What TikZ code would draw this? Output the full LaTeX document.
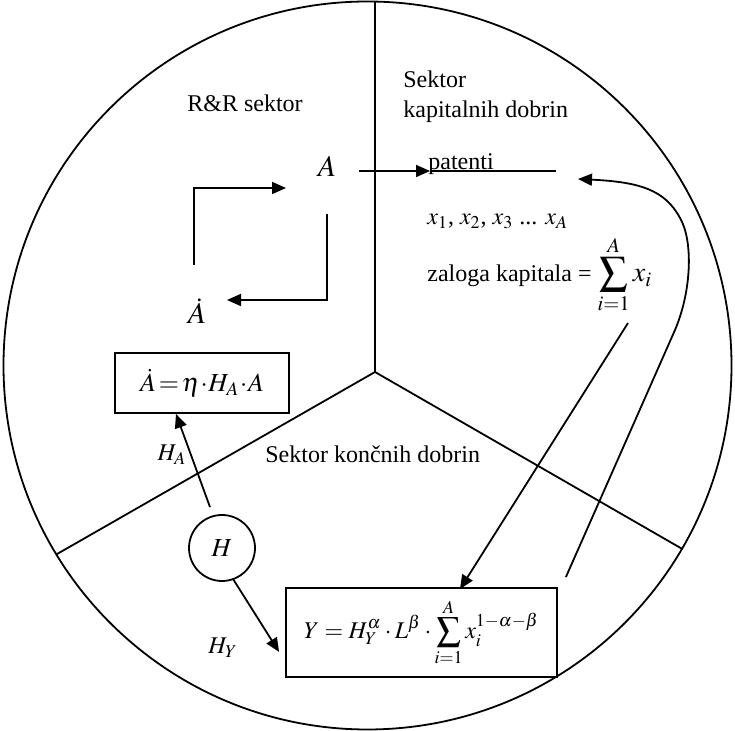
\documentclass[tikz,border=0pt]{standalone}
\usepackage{mathptmx}
\usepackage{fontspec}
\setmainfont{Liberation Serif}
\usetikzlibrary{arrows.meta,calc}
\begin{document}
\begin{tikzpicture}[x=0.5pt,y=-0.5pt,
  every node/.style={font=\fontsize{12}{14}\selectfont, inner sep=0pt},
  big/.style={font=\fontsize{15}{17}\selectfont},
  ln/.style={line width=0.9pt},
  arr/.style={ln,-{Triangle[length=7pt,width=6pt]}},
  fbox/.style={draw,ln,rectangle}]
\useasboundingbox (0,0) rectangle (735,731);
% sectors
\coordinate (J) at (375,372);
\coordinate (Etop) at (375,-20);
\coordinate (Eleft) at (-4,589);
\coordinate (Eright) at (757,592);
\begin{scope}
  \clip (367.5,365.5) circle[radius=182pt];
  \draw[ln] (J) -- (Etop);
  \draw[ln] (J) -- (Eleft);
  \draw[ln] (J) -- (Eright);
\end{scope}
\draw[ln] (367.5,365.5) circle[radius=182pt];
% texts
\node[anchor=base] (rr) at (245,112) {R\&R sektor};
\node[anchor=base west] (sk1) at (403,88) {Sektor};
\node[anchor=base west] (sk2) at (403,118) {kapitalnih dobrin};
\node[big] (A) at (327,166) {$A$};
\node[big] (Ad) at (197,311) {$\dot A$};
\node[anchor=base west] (pat) at (428,170) {patenti};
\node[anchor=base west] (xs) at (427,225) {$x_1$, $x_2$, $x_3$ ... $x_A$};
\node[anchor=base west] (zal) at (427,282) {zaloga kapitala = {\fontsize{14}{16}\selectfont$\displaystyle\sum_{i=1}^{A} x_i$}};
\node[anchor=base west] (skd) at (265,463) {Sektor končnih dobrin};
\node[fbox, minimum width=87pt, minimum height=30pt, font=\fontsize{13}{15}\selectfont] (abox) at (202,383) {$\dot A\!=\!\eta\!\cdot\! H_A\!\cdot\! A$};
\node[draw,circle,ln,minimum size=33pt,font=\fontsize{13}{15}\selectfont] (H) at (222,548) {$H$};
\node (HA) at (172,455) {$H_A$};
\node (HY) at (223,648) {$H_Y$};
\node[fbox, minimum width=135.5pt, minimum height=44.5pt] (ybox) at (421.5,632.5) {$\displaystyle Y = H_Y^{\alpha}\cdot L^{\beta}\cdot\sum_{i=1}^{A} x_i^{1-\alpha-\beta}$};
% loop in R&R sector
\coordinate (l1) at (194,265);
\coordinate (l2) at (286,188);
\coordinate (l3) at (327,214);
\coordinate (l4) at (227,300);
\draw[arr] (l1) |- (l2);
\draw[arr] (l3) |- (l4);
% patents arrow
\coordinate (p1) at (359,171);
\coordinate (p2) at (430,171);
\coordinate (p3) at (556,171);
\draw[arr] (p1) -- (p2);
\draw[ln] (p2) -- (p3);
% H arrows
\draw[arr] ([shift={(-12,-7)}]H.north) -- ([xshift=-13]abox.south);
\draw[arr] (H.-70) -- ([shift={(-6,19.5)}]ybox.west);
% capital stock to Y
\coordinate (s1) at (628,323);
\draw[arr] (s1) -- ([shift={(38.5,2)}]ybox.north);
% feedback curve
\coordinate (c1) at (675,330);
\coordinate (ctip) at (578,179);
\draw[arr] ([shift={(8,-10)}]ybox.north east) -- (c1) .. controls (692,290) and (693,240) .. (680,218) .. controls (665,190) and (640,182) .. (ctip);
\end{tikzpicture}
\end{document}
